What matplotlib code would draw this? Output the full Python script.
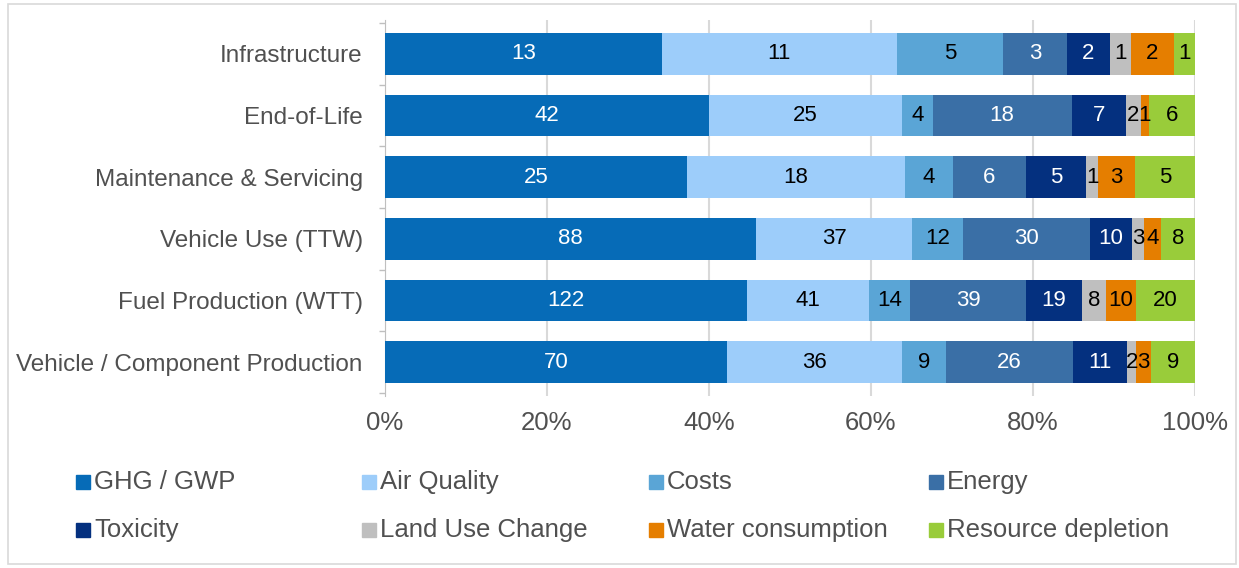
import numpy as np
import matplotlib.pyplot as plt
from matplotlib.patches import Rectangle

plt.rcParams['font.family'] = ['Liberation Sans', 'DejaVu Sans']

stages = ['Vehicle / Component Production', 'Fuel Production (WTT)', 'Vehicle Use (TTW)',
          'Maintenance & Servicing', 'End-of-Life', 'Infrastructure']
categories = ['GHG / GWP', 'Air Quality', 'Costs', 'Energy',
              'Toxicity', 'Land Use Change', 'Water consumption', 'Resource depletion']
ghg = [70, 122, 88, 25, 42, 13]
air = [36, 41, 37, 18, 25, 11]
costs = [9, 14, 12, 4, 4, 5]
energy = [26, 39, 30, 6, 18, 3]
toxicity = [11, 19, 10, 5, 7, 2]
land = [2, 8, 3, 1, 2, 1]
water = [3, 10, 4, 3, 1, 2]
resource = [9, 20, 8, 5, 6, 1]

colors = ['#066BB7', '#9DCDFA', '#5AA5D6', '#3A6FA6',
          '#04307F', '#BFBFBF', '#E57E00', '#99CC3A']
text_colors = ['white', 'black', 'black', 'white', 'white', 'black', 'black', 'black']

data = np.array([ghg, air, costs, energy, toxicity, land, water, resource], dtype=float)
totals = data.sum(axis=0)
pct = data / totals * 100

W, H = 1239, 568
fig = plt.figure(figsize=(W / 100, H / 100), dpi=100)
# axes from y=20 to y=396 px (top-origin)
ax = fig.add_axes([385 / W, 1 - 396 / H, 810 / W, 376 / H])

y = np.arange(len(stages))
left = np.zeros(len(stages))
for i, cat in enumerate(categories):
    ax.barh(y, pct[i], left=left, height=0.68, color=colors[i], label=cat, zorder=3)
    for j in range(len(stages)):
        ax.text(left[j] + pct[i, j] / 2, y[j], '%d' % data[i, j], ha='center', va='center',
                color=text_colors[i], fontsize=16, zorder=4)
    left += pct[i]

ax.set_xlim(0, 100)
ax.set_ylim(-0.55, 5.55)
ax.set_xticks(np.arange(0, 101, 20))
ax.set_xticklabels(['%d%%' % v for v in range(0, 101, 20)], fontsize=18.5, color='#505050')
ax.set_yticks(y)
ax.set_yticklabels(stages, fontsize=17.5, color='#505050')
ax.set_yticks(np.arange(-0.5, 6, 1), minor=True)
ax.tick_params(axis='y', which='major', length=0, pad=16)
ax.tick_params(axis='y', which='minor', length=4, color='#BFBFBF', width=1)
ax.tick_params(axis='x', length=0, pad=11)
ax.grid(axis='x', color='#D9D9D9', linewidth=1.5, zorder=0)
for s in ax.spines.values():
    s.set_visible(False)
ax.spines['left'].set_visible(True)
ax.spines['left'].set_color('#BFBFBF')
ax.spines['left'].set_zorder(2)

# legend, placed by hand in two rows of four
leg_x = [76, 362, 649, 929]
leg_y = [482, 530]
for k, cat in enumerate(categories):
    px = leg_x[k % 4]
    py = leg_y[k // 4]
    fig.add_artist(Rectangle((px / W, 1 - (py + 7) / H), 14 / W, 14 / H,
                             transform=fig.transFigure, color=colors[k]))
    fig.text((px + 18) / W, 1 - py / H, cat, fontsize=18.5, color='#505050',
             ha='left', va='center')

fig.add_artist(Rectangle((8 / W, 4 / H), 1228 / W, 560 / H, transform=fig.transFigure,
                         fill=False, edgecolor='#D9D9D9', linewidth=1.2))

fig.savefig('out.png', dpi=100)
